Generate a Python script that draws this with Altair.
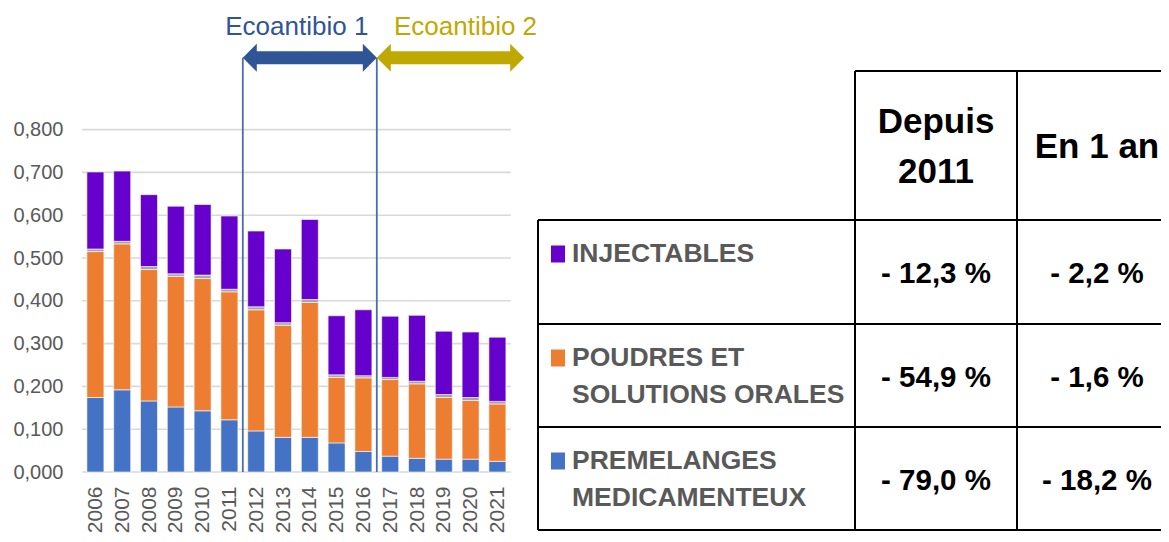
import altair as alt
import pandas as pd

# ---------------- data ----------------
years = list(range(2006, 2022))
premelanges = [0.174, 0.192, 0.166, 0.152, 0.143, 0.122, 0.096, 0.081, 0.081, 0.068, 0.048, 0.037, 0.032, 0.030, 0.030, 0.025]
poudres = [0.341, 0.341, 0.307, 0.305, 0.309, 0.299, 0.283, 0.262, 0.315, 0.153, 0.172, 0.179, 0.174, 0.144, 0.137, 0.134]
autres = [0.006, 0.006, 0.007, 0.006, 0.008, 0.006, 0.007, 0.006, 0.007, 0.006, 0.005, 0.005, 0.006, 0.007, 0.007, 0.006]
injectables = [0.180, 0.164, 0.168, 0.158, 0.165, 0.171, 0.177, 0.172, 0.187, 0.138, 0.154, 0.143, 0.154, 0.148, 0.153, 0.150]

series_names = ["PREMELANGES MEDICAMENTEUX", "POUDRES ET SOLUTIONS ORALES", "AUTRES", "INJECTABLES"]
series_colors = ["#4472C4", "#ED7D31", "#A5A5A5", "#6600CC"]

y_ticks = [0.0, 0.1, 0.2, 0.3, 0.4, 0.5, 0.6, 0.7, 0.8]

phases = ["Ecoantibio 1", "Ecoantibio 2"]
phase_start = [2011.5, 2016.5]
phase_end = [2016.5, 2022.0]
phase_colors = ["#2F5597", "#BFA900"]

header_lines = [["Depuis", "2011"], ["En 1 an"]]
row_labels = [["INJECTABLES"], ["POUDRES ET", "SOLUTIONS ORALES"], ["PREMELANGES", "MEDICAMENTEUX"]]
row_colors = ["#6600CC", "#ED7D31", "#4472C4"]
depuis_2011 = ["- 12,3 %", "- 54,9 %", "- 79,0 %"]
en_1_an = ["- 2,2 %", "- 1,6 %", "- 18,2 %"]

# ---------------- layout constants ----------------
FONT = "Liberation Sans, Arial, sans-serif"
GRAY_TXT = "#595959"
W, H = 1079, 462
OX, OY = 82, 10          # page position of view origin
STEP = 26.8              # px per year
ARROW_Y = 0.968
TEXT_Y = 1.020
TEXT_SHIFT_PX = [-13, 15]  # label placement relative to arrow middle

xscale = alt.Scale(domain=[years[0] - 0.5, years[0] - 0.5 + W / STEP], nice=False, zero=False, padding=0)
yscale = alt.Scale(domain=[0, H / 428.0], nice=False, zero=True, padding=0)

# ---------------- bars ----------------
rows = []
for i, y in enumerate(years):
    for k, (name, vals) in enumerate(zip(series_names, [premelanges, poudres, autres, injectables])):
        rows.append({"year": y, "series": name, "value": vals[i], "order": k})
bars_df = pd.DataFrame(rows)

bars = alt.Chart(bars_df).mark_bar(size=17, stroke="white", strokeWidth=0.6).encode(
    x=alt.X("year:Q", scale=xscale, title=None,
            axis=alt.Axis(values=years, format="d", labelAngle=-90, labelFont=FONT,
                          labelFontSize=21, labelColor=GRAY_TXT, domain=False, ticks=False,
                          grid=False, labelPadding=14, labelFlush=False, labelOverlap=False)),
    y=alt.Y("value:Q", stack="zero", scale=yscale, title=None,
            axis=alt.Axis(values=y_ticks, labelExpr="replace(format(datum.value, '.3f'), '.', ',')",
                          labelFont=FONT, labelFontSize=20, labelColor=GRAY_TXT, domain=False,
                          ticks=False, grid=False, labelPadding=19)),
    color=alt.Color("series:N", scale=alt.Scale(domain=series_names, range=series_colors), legend=None),
    order=alt.Order("order:Q"),
)

grid_df = pd.DataFrame({"v": y_ticks, "x1": years[0] - 0.5, "x2": years[-1] + 0.5})
grid = alt.Chart(grid_df).mark_rule(color="#D9D9D9", strokeWidth=1.6).encode(
    x=alt.X("x1:Q", scale=xscale), x2="x2:Q", y=alt.Y("v:Q", scale=yscale)
)

# ---------------- phases / arrows ----------------
ph_df = pd.DataFrame({"phase": phases, "start": phase_start, "end": phase_end, "col": phase_colors,
                      "tx": [(a + b) / 2 + d / STEP for a, b, d in zip(phase_start, phase_end, TEXT_SHIFT_PX)],
                      "ay": ARROW_Y, "ty": TEXT_Y, "zero": 0.0})
pcolor = alt.Color("col:N", scale=None, legend=None)

vlines = alt.Chart(ph_df).mark_rule(strokeWidth=1.8, color="#4A6EAD").encode(
    x=alt.X("start:Q", scale=xscale), y=alt.Y("zero:Q", scale=yscale), y2="ay:Q"
)
shafts = alt.Chart(ph_df).mark_rule(strokeWidth=13, strokeCap="butt", xOffset=12, x2Offset=-12).encode(
    x=alt.X("start:Q", scale=xscale), x2="end:Q", y=alt.Y("ay:Q", scale=yscale), color=pcolor
)
head_l = alt.Chart(ph_df).mark_point(shape="M 0 0 L 1 -1 L 1 1 Z", size=784, filled=True,
                                     opacity=1, strokeWidth=0).encode(
    x=alt.X("start:Q", scale=xscale), y=alt.Y("ay:Q", scale=yscale), color=pcolor
)
head_r = alt.Chart(ph_df).mark_point(shape="M 0 0 L -1 -1 L -1 1 Z", size=784, filled=True,
                                     opacity=1, strokeWidth=0).encode(
    x=alt.X("end:Q", scale=xscale), y=alt.Y("ay:Q", scale=yscale), color=pcolor
)
ph_text = alt.Chart(ph_df).mark_text(font=FONT, fontSize=26, baseline="alphabetic", align="center").encode(
    x=alt.X("tx:Q", scale=xscale), y=alt.Y("ty:Q", scale=yscale), text="phase:N", color=pcolor
)

# ---------------- table ----------------
col_x = [538, 855, 1017, 1177]
header_top = 71
row_tops = [220, 324, 427, 530]
line_end = 1185

seg = []
seg.append((col_x[1], header_top, line_end, header_top))
for t in row_tops:
    seg.append((col_x[0], t, line_end, t))
seg.append((col_x[0], row_tops[0], col_x[0], row_tops[-1]))
for cx in col_x[1:3]:
    seg.append((cx, header_top, cx, row_tops[-1]))
border_df = pd.DataFrame([{"x1": a - OX, "y1": b - OY, "x2": c - OX, "y2": d - OY} for a, b, c, d in seg])
borders = alt.Chart(border_df).mark_rule(color="black", strokeWidth=2).encode(
    x=alt.X("x1:Q", scale=None, axis=None), x2="x2:Q",
    y=alt.Y("y1:Q", scale=None, axis=None), y2="y2:Q"
)

# header
hdr = []
for c, lines in enumerate(header_lines):
    cx = (col_x[c + 1] + col_x[c + 2]) / 2
    n = len(lines)
    for j, t in enumerate(lines):
        cy = (header_top + row_tops[0]) / 2 + (j - (n - 1) / 2) * 50 + 1
        hdr.append({"t": t, "px": cx - OX, "py": cy - OY})
header_text = alt.Chart(pd.DataFrame(hdr)).mark_text(font=FONT, fontWeight="bold", fontSize=35,
                                                      color="black", baseline="middle", align="center").encode(
    x=alt.X("px:Q", scale=None, axis=None), y=alt.Y("py:Q", scale=None, axis=None), text="t:N"
)

# numbers
num = []
for r in range(3):
    cy = (row_tops[r] + row_tops[r + 1]) / 2 + 2
    for c, vals in enumerate([depuis_2011, en_1_an]):
        cx = (col_x[c + 1] + col_x[c + 2]) / 2
        num.append({"t": vals[r], "px": cx - OX, "py": cy - OY})
num_text = alt.Chart(pd.DataFrame(num)).mark_text(font=FONT, fontWeight="bold", fontSize=29.5,
                                                   color="black", baseline="middle", align="center").encode(
    x=alt.X("px:Q", scale=None, axis=None), y=alt.Y("py:Q", scale=None, axis=None), text="t:N"
)

# labels + squares
lab, sq = [], []
for r, lines in enumerate(row_labels):
    first = row_tops[r] + 34
    for j, t in enumerate(lines):
        lab.append({"t": t, "px": 572 - OX, "py": first + j * 37 - OY})
    sq.append({"s": r, "x1": 551 - OX, "x2": 565 - OX, "y1": first - 8.5 - OY, "y2": first + 8.5 - OY,
               "c": row_colors[r]})
label_text = alt.Chart(pd.DataFrame(lab)).mark_text(font=FONT, fontWeight="bold", fontSize=26.5,
                                                     color=GRAY_TXT, baseline="middle", align="left").encode(
    x=alt.X("px:Q", scale=None, axis=None), y=alt.Y("py:Q", scale=None, axis=None), text="t:N"
)
squares = alt.Chart(pd.DataFrame(sq)).mark_rect().encode(
    x=alt.X("x1:Q", scale=None, axis=None), x2="x2:Q",
    y=alt.Y("y1:Q", scale=None, axis=None), y2="y2:Q",
    color=alt.Color("c:N", scale=None, legend=None)
)

chart = alt.layer(
    grid, bars, vlines, shafts, head_l, head_r, ph_text,
    borders, squares, label_text, header_text, num_text
).resolve_scale(color="independent").properties(
    width=W, height=H,
    autosize=alt.AutoSizeParams(type="none"),
    padding={"left": OX - 8, "top": OY - 8, "right": 0, "bottom": 62},
).configure_view(stroke=None)

chart.save("out.html", embed_options={"renderer": "svg", "actions": False})
